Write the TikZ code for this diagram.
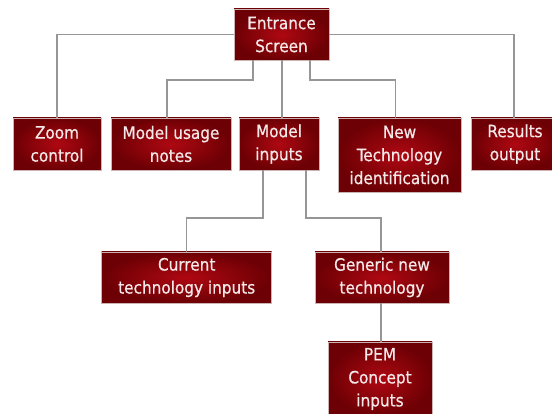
\documentclass[tikz,border=0pt]{standalone}
\usepackage{fontspec}
\setmainfont[FakeBold=0.6,BoldFont={DejaVu Sans Condensed}]{DejaVu Sans Condensed}
\definecolor{boxin}{RGB}{175,8,18}
\definecolor{boxout}{RGB}{108,0,4}
\definecolor{boxedge}{RGB}{205,180,180}
\definecolor{txt}{RGB}{245,232,232}
\definecolor{wire}{RGB}{150,150,150}
\tikzset{
  blk/.style={rectangle, shading=radial, inner color=boxin, outer color=boxout,
    draw=boxedge, line width=0.6pt, text=txt, align=center, inner sep=0pt,
    font=\fontsize{17}{23}\selectfont\bfseries},
  wirel/.style={draw=wire, line width=1.4pt}
}
\begin{document}
\begin{tikzpicture}[x=1pt,y=-1pt]
\useasboundingbox (0,0) rectangle (552,414);
\fill[white] (0,0) rectangle (552,414);
\node[blk, minimum width=95pt, minimum height=51pt] (es) at (281.5,34.5) {Entrance\\Screen};
\node[blk, minimum width=88pt, minimum height=52pt] (zc) at (57,144) {Zoom\\control};
\node[blk, minimum width=120pt, minimum height=52pt] (mu) at (171,144) {Model usage\\notes};
\node[blk, minimum width=80pt, minimum height=52pt] (mi) at (279,144) {Model\\inputs};
\node[blk, minimum width=123pt, minimum height=74pt] (nt) at (399.5,155) {New\\Technology\\identification};
\node[blk, minimum width=88pt, minimum height=52pt] (ro) at (515,144) {Results\\output};
\node[blk, minimum width=170pt, minimum height=51pt] (ct) at (186.7,277.5) {Current\\technology inputs};
\node[blk, minimum width=134pt, minimum height=51pt] (gn) at (382,277.5) {Generic new\\technology};
\node[blk, minimum width=104pt, minimum height=74pt] (pem) at (380,379) {PEM\\Concept\\inputs};
\coordinate (lvlA) at (0,80);
\coordinate (lvlB) at (0,218);
\draw[wirel] (es.west) -| (zc.north);
\draw[wirel] (es.east) -| ([xshift=-1pt]ro.north);
\draw[wirel] ([xshift=-28.5pt]es.south) |- ([xshift=-4pt]lvlA -| mu.north) -- ([xshift=-4pt]mu.north);
\draw[wirel] ([xshift=0.5pt]es.south) -- ([xshift=0.5pt]es.south |- mi.north);
\draw[wirel] ([xshift=28.5pt]es.south) |- ([xshift=-4pt]lvlA -| nt.north) -- ([xshift=-4pt]nt.north);
\draw[wirel] ([xshift=-16pt]mi.south) |- (lvlB -| ct.north) -- (ct.north);
\draw[wirel] ([xshift=27pt]mi.south) |- ([xshift=-1pt]lvlB -| gn.north) -- ([xshift=-1pt]gn.north);
\draw[wirel] ([xshift=-1pt]gn.south) -- ([xshift=-1pt]gn.south |- pem.north);
\end{tikzpicture}
\end{document}
